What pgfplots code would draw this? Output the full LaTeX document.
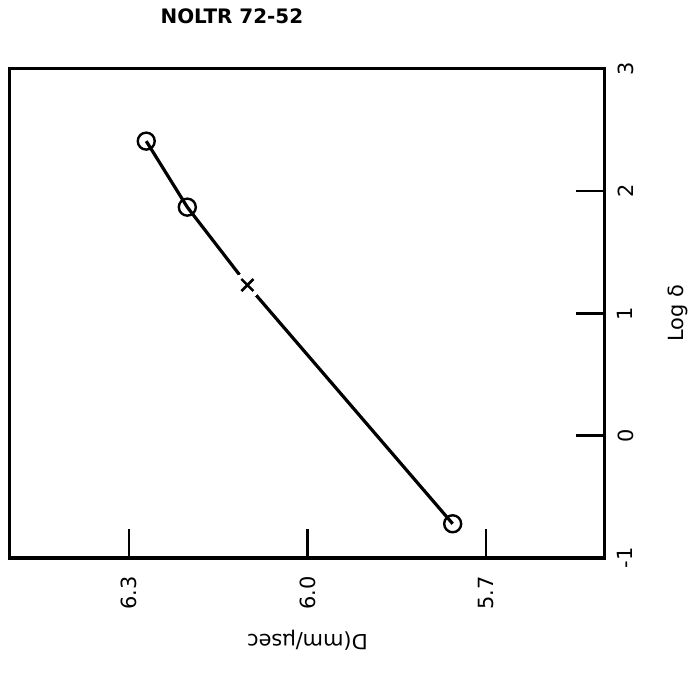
\documentclass[border=0pt]{standalone}
\usepackage{fontspec}
\setmainfont{DejaVu Sans}
\usepackage{pgfplots}
\pgfplotsset{compat=1.18}
\begin{document}
\begin{tikzpicture}
\useasboundingbox (0,0) rectangle (695bp,678bp);
\begin{axis}[
  at={(10bp,120bp)}, anchor=south west,
  scale only axis, width=595bp, height=489bp,
  x dir=reverse,
  xmin=5.5, xmax=6.5, ymin=-1, ymax=3,
  axis line style={line width=3bp},
  xtick={5.7,6.0,6.3}, xticklabels={5.7,6.0,6.3},
  ytick={-1,0,1,2,3}, yticklabels={-1,0,1,2,3},
  xtick pos=bottom, ytick pos=right,
  tick align=inside,
  major tick length=29bp,
  tick style={line width=2.5bp, black},
  ticklabel style={font=\fontsize{21}{25}\selectfont},
  xticklabel style={rotate=90, anchor=east},
  xticklabel shift=15bp,
  yticklabel style={rotate=90, anchor=north},
  yticklabel shift=9bp,
  xlabel={D(mm/\textmu sec},
  xlabel style={at={(axis description cs:0.5,-0.168)}, anchor=center, rotate=180, font=\fontsize{21}{25}\selectfont},
  ylabel={Log δ},
  ylabel style={at={(axis description cs:1.1227,0.5)}, anchor=center, rotate=0, font=\fontsize{21}{25}\selectfont},
  title={NOLTR 72-52},
  title style={at={(axis description cs:0.373,1.096)}, anchor=center, font=\bfseries\fontsize{20}{24}\selectfont},
  clip=false,
]
\addplot[black, line width=3.2bp] coordinates {
  (6.271,2.41) (6.202,1.87) (6.101,1.233) (5.756,-0.72)
};
\addplot[only marks, mark=*, mark size=13bp, mark options={fill=white, draw=white, line width=0pt}] coordinates {(6.101,1.233)};
\addplot[only marks, mark=x, mark size=8.5bp, mark options={line width=2.6bp, black}] coordinates {(6.101,1.233)};
\addplot[only marks, mark=o, mark size=8.5bp, mark options={fill=white, draw=black, line width=2.4bp}] coordinates {
  (6.271,2.41) (6.202,1.87) (5.756,-0.72)
};
\end{axis}
\end{tikzpicture}
\end{document}
